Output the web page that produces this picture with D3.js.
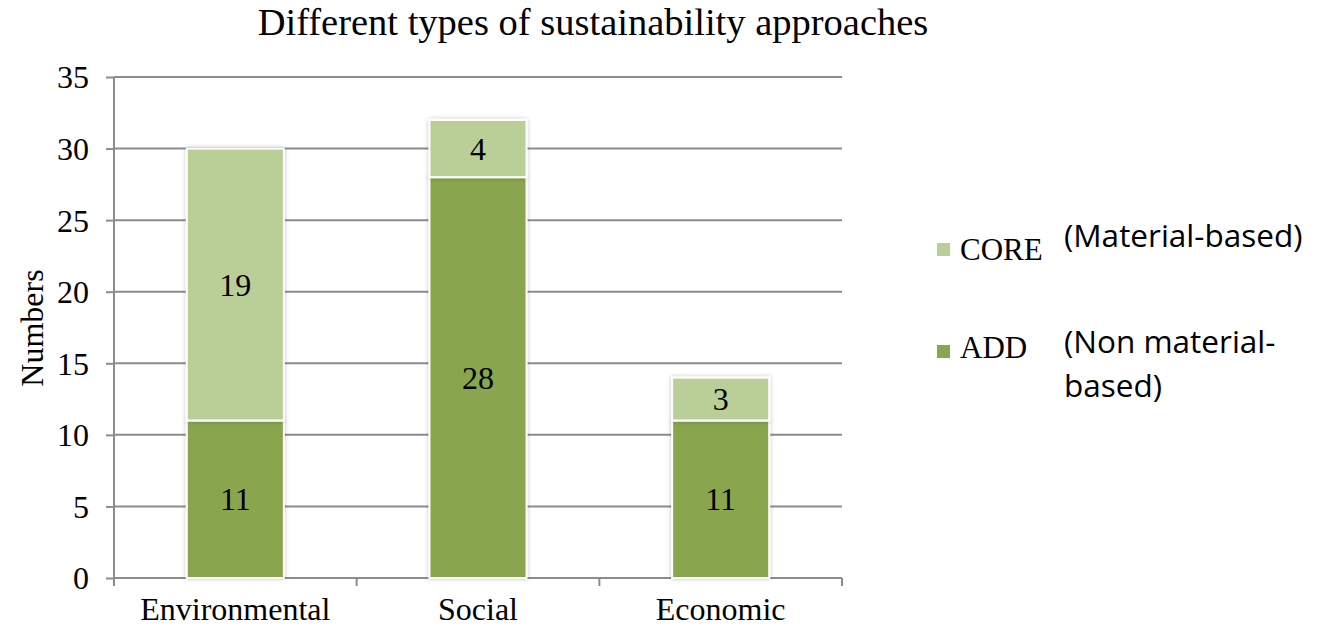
<!DOCTYPE html>
<html><head><meta charset="utf-8">
<script src="https://cdn.jsdelivr.net/npm/d3@7"></script>
<style>body{margin:0;background:#fff}svg{display:block}</style>
</head><body>
<svg id="c" width="1332" height="630"></svg>
<script>
const categories = ["Environmental", "Social", "Economic"];
const addValues = [11, 28, 11];
const coreValues = [19, 4, 3];
const seriesNames = ["CORE", "ADD"];
const seriesNotes = [["(Material-based)"], ["(Non material-", "based)"]];
const yTicks = [0, 5, 10, 15, 20, 25, 30, 35];
const colors = {CORE: "#bacf97", ADD: "#89a54e"};

const svg = d3.select("#c");
const L = 114, R = 842, T = 77, B = 578;
const x = d3.scaleBand().domain(categories).range([L, R]).paddingInner(0.6).paddingOuter(0.3);
const y = d3.scaleLinear().domain([0, 35]).range([B, T]);
const serif = "'Liberation Serif','Times New Roman',serif";
const sans = "'Open Sans','Liberation Sans',sans-serif";
const fs = 32;

// gridlines
svg.append("g").selectAll("line").data(yTicks.filter(d => d > 0)).join("line")
  .attr("x1", L).attr("x2", R).attr("y1", d => y(d)).attr("y2", d => y(d))
  .attr("stroke", "#8c8c8c").attr("stroke-width", 2);

// y axis
const ya = svg.append("g").attr("transform", `translate(${L},0)`)
  .call(d3.axisLeft(y).tickValues(yTicks).tickSize(8).tickPadding(17));
ya.select(".domain").attr("stroke", "#8c8c8c").attr("stroke-width", 2).attr("d", `M0,${B}V${T}`);
ya.selectAll(".tick line").attr("stroke", "#8c8c8c").attr("stroke-width", 2);
ya.selectAll("text").attr("font-family", serif).attr("font-size", fs).attr("fill", "#000").attr("dy", "0.34em");

// x axis with boundary ticks
const step = (R - L) / categories.length;
const xa = svg.append("g");
xa.append("line").attr("x1", L).attr("x2", R).attr("y1", B).attr("y2", B).attr("stroke", "#8c8c8c").attr("stroke-width", 2);
xa.selectAll("line.t").data(d3.range(categories.length + 1)).join("line").attr("class", "t")
  .attr("x1", i => L + i * step).attr("x2", i => L + i * step).attr("y1", B).attr("y2", B + 8)
  .attr("stroke", "#8c8c8c").attr("stroke-width", 2);
xa.selectAll("text").data(categories).join("text")
  .attr("x", d => x(d) + x.bandwidth() / 2).attr("y", B + 42)
  .attr("text-anchor", "middle").attr("font-family", serif).attr("font-size", fs).text(d => d);

// shadow filter
const defs = svg.append("defs");
const f = defs.append("filter").attr("id", "sh").attr("x", "-20%").attr("y", "-20%").attr("width", "140%").attr("height", "140%");
f.append("feDropShadow").attr("dx", 0).attr("dy", 0).attr("stdDeviation", 2).attr("flood-color", "#000").attr("flood-opacity", 0.25);

// bars
const stackData = categories.map((c, i) => ({cat: c, ADD: addValues[i], CORE: coreValues[i]}));
const stack = d3.stack().keys(["ADD", "CORE"])(stackData);
const gBars = svg.append("g");
stack.forEach(layer => {
  const g = gBars.append("g");
  g.selectAll("rect").data(layer).join("rect")
    .attr("x", d => x(d.data.cat)).attr("width", x.bandwidth())
    .attr("y", d => y(d[1])).attr("height", d => y(d[0]) - y(d[1]))
    .attr("fill", colors[layer.key]).attr("stroke", "#fff").attr("stroke-width", 2)
    .attr("filter", "url(#sh)");
});
stack.forEach(layer => {
  svg.append("g").selectAll("text").data(layer).join("text")
    .attr("x", d => x(d.data.cat) + x.bandwidth() / 2)
    .attr("y", d => (y(d[0]) + y(d[1])) / 2 + 11)
    .attr("text-anchor", "middle").attr("font-family", serif).attr("font-size", fs)
    .text(d => d.data[layer.key]);
});

// title
svg.append("text").attr("x", 593).attr("y", 35).attr("text-anchor", "middle")
  .attr("font-family", serif).attr("font-size", 38.5).text("Different types of sustainability approaches");

// y label
svg.append("text").attr("transform", "translate(43,328) rotate(-90)").attr("text-anchor", "middle")
  .attr("font-family", serif).attr("font-size", fs).text("Numbers");

// legend
const sqY = [243, 345];
const txtY = [260, 358];
const noteY = [247, 353];
seriesNames.forEach((s, i) => {
  const g = svg.append("g");
  g.append("rect").attr("x", 937).attr("y", sqY[i]).attr("width", 13).attr("height", 13).attr("fill", colors[s]);
  g.append("text").attr("x", 960).attr("y", txtY[i]).attr("font-family", serif).attr("font-size", 31).text(s);
  const t = g.append("text").attr("x", 1064).attr("y", noteY[i]).attr("font-family", sans).attr("font-size", 31.5);
  seriesNotes[i].forEach((line, j) => {
    t.append("tspan").attr("x", 1064).attr("y", noteY[i] + j * 44).text(line);
  });
});
</script>
</body></html>
